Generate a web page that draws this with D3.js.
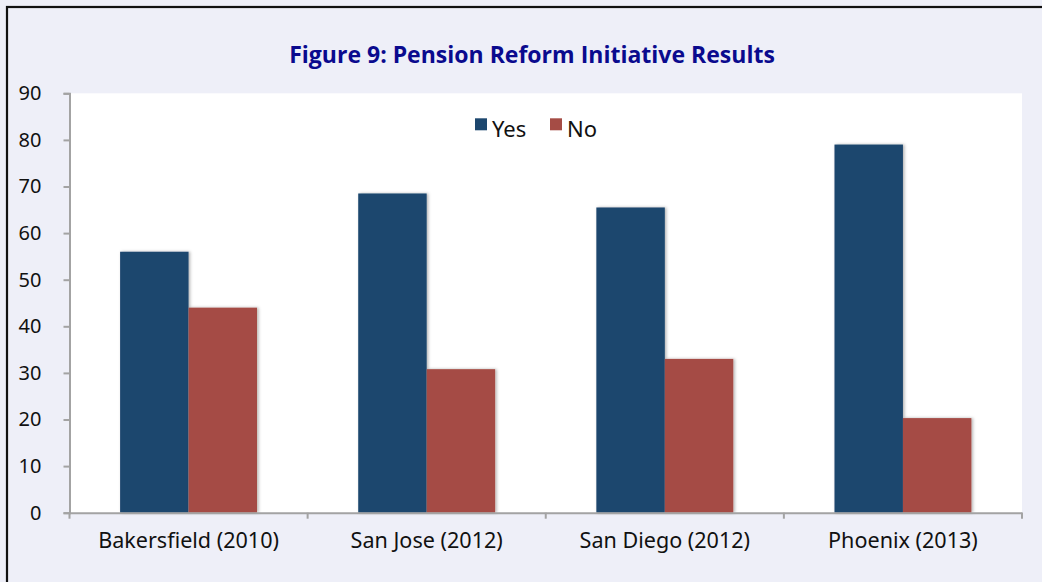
<!DOCTYPE html>
<html><head><meta charset="utf-8">
<script src="https://cdn.jsdelivr.net/npm/d3@7"></script>
<style>html,body{margin:0;padding:0;background:#eeeff8;overflow:hidden}</style>
</head><body>
<svg id="chart" width="1042" height="582"></svg>
<script>
const categories = ["Bakersfield (2010)", "San Jose (2012)", "San Diego (2012)", "Phoenix (2013)"];
const seriesNames = ["Yes", "No"];
const yesValues = [56, 68.5, 65.5, 79];
const noValues = [44, 30.8, 33, 20.3];
const yTicks = [0, 10, 20, 30, 40, 50, 60, 70, 80, 90];
const titleText = "Figure 9: Pension Reform Initiative Results";
const colors = ["#1d476e", "#a54c45"];

const svg = d3.select("#chart");
const W = 1042, H = 582;
const m = {left: 69.5, right: 1022, top: 93.3, bottom: 512.7};

svg.append("rect").attr("width", W).attr("height", H).attr("fill", "#eeeff8");
svg.append("rect").attr("x", 7).attr("y", 7).attr("width", W + 20).attr("height", H + 20)
  .attr("fill", "none").attr("stroke", "#111").attr("stroke-width", 2.2);

const defs = svg.append("defs");
const f = defs.append("filter").attr("id", "sh").attr("x", "-20%").attr("y", "-5%").attr("width", "140%").attr("height", "110%");
f.append("feDropShadow").attr("dx", 1.5).attr("dy", 0).attr("stdDeviation", 1.5).attr("flood-color", "#000").attr("flood-opacity", 0.3);

svg.append("rect").attr("x", m.left).attr("y", m.top).attr("width", m.right - m.left).attr("height", m.bottom - m.top).attr("fill", "#fff");

const data = categories.map((c, i) => ({cat: c, vals: [yesValues[i], noValues[i]]}));

const x0 = d3.scaleBand().domain(categories).range([m.left, m.right]).padding(0);
const step = x0.bandwidth();
const x1 = d3.scaleBand().domain(seriesNames).range([0.2125 * step, 0.7875 * step]).padding(0);
const y = d3.scaleLinear().domain([0, 90]).range([m.bottom, m.top]);

// bars
const g = svg.append("g");
data.forEach(d => {
  d.vals.forEach((v, j) => {
    g.append("rect")
      .attr("x", x0(d.cat) + x1(seriesNames[j]))
      .attr("y", y(v))
      .attr("width", x1.bandwidth())
      .attr("height", y(0) - y(v))
      .attr("fill", colors[j])
      .attr("filter", "url(#sh)");
  });
});

const axisColor = "#a3a3a3";
// y axis
const yAxis = svg.append("g").attr("transform", `translate(${m.left},0)`)
  .call(d3.axisLeft(y).tickValues(yTicks).tickSize(6).tickPadding(22).tickFormat(d3.format("d")));
yAxis.select(".domain").attr("stroke", axisColor).attr("stroke-width", 2);
yAxis.selectAll(".tick line").attr("stroke", axisColor).attr("stroke-width", 2);
yAxis.selectAll("text").attr("font-family", "'Noto Sans', sans-serif").attr("font-size", 20).attr("fill", "#111");

// x axis
const xAxis = svg.append("g").attr("transform", `translate(0,${m.bottom})`)
  .call(d3.axisBottom(x0).tickSize(0).tickPadding(20));
xAxis.select(".domain").attr("stroke", axisColor).attr("stroke-width", 2);
const xt = xAxis.selectAll("text").attr("font-family", "'Noto Sans', sans-serif").attr("font-size", 20).attr("fill", "#111");
const bw = xt.filter(d => d === categories[0]).node().getComputedTextLength();
xt.attr("font-size", 20 * 181 / bw);
const bounds = [m.left].concat(categories.map(c => x0(c) + step));
xAxis.selectAll(".btick").data(bounds).enter().append("line")
  .attr("x1", d => d).attr("x2", d => d).attr("y1", 0).attr("y2", 6)
  .attr("stroke", axisColor).attr("stroke-width", 2);

// title
const t = svg.append("text").attr("x", 532).attr("y", 63).attr("text-anchor", "middle")
  .attr("font-family", "'Open Sans', sans-serif").attr("font-weight", "bold")
  .attr("font-size", 21).attr("fill", "#0a0a8e").text(titleText);
const tw = t.node().getComputedTextLength();
t.attr("font-size", 21 * 486 / tw);

// legend
const legX = [475, 550];
seriesNames.forEach((s, j) => {
  svg.append("rect").attr("x", legX[j]).attr("y", 118.3).attr("width", 12).attr("height", 12).attr("fill", colors[j]);
  svg.append("text").attr("x", legX[j] + 17).attr("y", 137).attr("font-family", "'Noto Sans', sans-serif")
    .attr("font-size", 22).attr("fill", "#111").text(s);
});
</script>
</body></html>
